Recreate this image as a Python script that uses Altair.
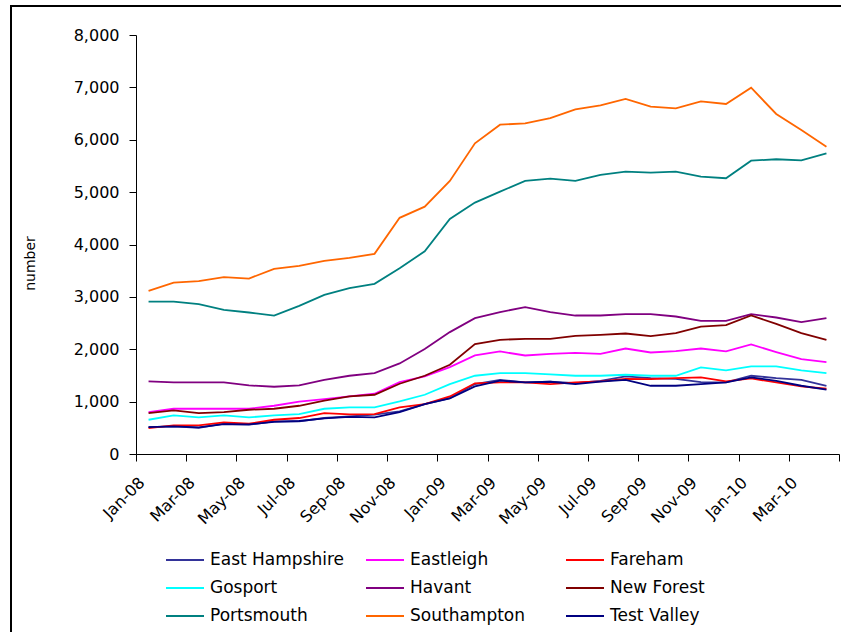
import json

import altair as alt
import pandas as pd

# Month labels, January 2008 to April 2010
months = [
    "Jan-08", "Feb-08", "Mar-08", "Apr-08", "May-08", "Jun-08", "Jul-08",
    "Aug-08", "Sep-08", "Oct-08", "Nov-08", "Dec-08", "Jan-09", "Feb-09",
    "Mar-09", "Apr-09", "May-09", "Jun-09", "Jul-09", "Aug-09", "Sep-09",
    "Oct-09", "Nov-09", "Dec-09", "Jan-10", "Feb-10", "Mar-10", "Apr-10",
]

districts = [
    "East Hampshire", "Eastleigh", "Fareham",
    "Gosport", "Havant", "New Forest",
    "Portsmouth", "Southampton", "Test Valley",
]

colors = [
    "#333399", "#ff00ff", "#ff0000",
    "#00ffff", "#800080", "#800000",
    "#008080", "#ff6600", "#000080",
]

east_hampshire = [515, 527, 500, 578, 559, 622, 622, 687, 718, 750, 813, 954, 1068, 1335,
                  1417, 1366, 1379, 1354, 1398, 1481, 1449, 1436, 1373, 1366, 1494, 1449, 1417, 1303]
eastleigh = [801, 864, 864, 864, 864, 921, 998, 1049, 1099, 1150, 1373, 1481, 1660, 1881,
             1958, 1881, 1913, 1932, 1913, 2014, 1938, 1965, 2014, 1958, 2091, 1946, 1812, 1755]
fareham = [496, 546, 546, 603, 578, 654, 687, 782, 756, 763, 890, 954, 1099, 1350,
           1366, 1366, 1335, 1366, 1385, 1436, 1430, 1449, 1462, 1385, 1443, 1366, 1290, 1246]
gosport = [654, 737, 699, 737, 699, 737, 763, 864, 890, 890, 1004, 1131, 1335, 1494,
           1545, 1545, 1519, 1494, 1494, 1513, 1494, 1494, 1653, 1596, 1672, 1672, 1596, 1545]
havant = [1385, 1366, 1366, 1366, 1309, 1284, 1309, 1417, 1494, 1545, 1729, 2003, 2327, 2594,
          2709, 2804, 2709, 2644, 2644, 2671, 2671, 2625, 2543, 2543, 2671, 2606, 2518, 2594]
new_forest = [782, 832, 782, 801, 845, 864, 921, 1017, 1099, 1131, 1341, 1494, 1704, 2098,
              2180, 2200, 2200, 2257, 2276, 2301, 2251, 2308, 2434, 2461, 2644, 2486, 2308, 2180]
portsmouth = [2911, 2911, 2861, 2753, 2702, 2644, 2829, 3039, 3167, 3249, 3548, 3870, 4489, 4800,
              5010, 5214, 5258, 5214, 5328, 5391, 5372, 5391, 5296, 5265, 5601, 5628, 5608, 5742]
southampton = [3115, 3274, 3300, 3376, 3350, 3535, 3592, 3688, 3745, 3821, 4509, 4723, 5214, 5933,
               6288, 6314, 6415, 6581, 6657, 6778, 6632, 6600, 6734, 6683, 6994, 6492, 6187, 5868]
test_valley = [515, 527, 510, 570, 565, 615, 630, 680, 710, 699, 800, 950, 1060, 1290,
               1400, 1366, 1379, 1335, 1380, 1417, 1303, 1303, 1335, 1366, 1462, 1398, 1303, 1227]

series = [east_hampshire, eastleigh, fareham, gosport, havant,
          new_forest, portsmouth, southampton, test_valley]

rows = []
for name, values in zip(districts, series):
    for i, v in enumerate(values):
        rows.append({"district": name, "idx": i, "month": months[i], "number": v})
df = pd.DataFrame(rows)

FONT = "DejaVu Sans"
n = len(months)

# Ticks sit on the boundaries between months, every second month labelled
tick_values = [i - 0.5 for i in range(0, n + 1, 2)]
label_expr = "(" + json.dumps(months) + ")[datum.value + 0.5] || ''"

lines = (
    alt.Chart(df)
    .mark_line(strokeWidth=1.8)
    .encode(
        x=alt.X(
            "idx:Q",
            scale=alt.Scale(domain=[-0.5, n - 0.5], nice=False, zero=False),
            axis=alt.Axis(
                values=tick_values,
                labelExpr=label_expr,
                labelAngle=315,
                labelAlign="right",
                labelBaseline="top",
                labelPadding=13,
                labelOverlap=False,
                labelFontSize=16,
                title=None,
                grid=False,
                tickSize=7,
            ),
        ),
        y=alt.Y(
            "number:Q",
            scale=alt.Scale(domain=[0, 8000], nice=False),
            axis=alt.Axis(
                values=list(range(0, 8001, 1000)),
                format=",d",
                title="number",
                titleAngle=270,
                titleX=-106,
                titleY=228,
                titleAlign="center",
                titleBaseline="middle",
                titleFontWeight="normal",
                titleFontSize=14,
                labelOverlap=False,
                grid=False,
                tickSize=7,
                labelPadding=10,
            ),
        ),
        color=alt.Color(
            "district:N",
            scale=alt.Scale(domain=districts, range=colors),
            sort=districts,
            legend=alt.Legend(
                title=None,
                orient="none",
                legendX=29,
                legendY=505,
                columns=3,
                direction="horizontal",
                gridAlign="all",
                columnPadding=17,
                rowPadding=-5,
                symbolType="stroke",
                symbolSize=1444,
                symbolStrokeWidth=2,
                labelOffset=5,
                labelFontSize=17,
                labelFont=FONT,
                labelColor="#000000",
                padding=0,
            ),
        ),
        detail="district:N",
    )
)

# Outer frame around the whole chart
frame = (
    alt.Chart(pd.DataFrame({"f": [0]}))
    .mark_rect(fill="transparent", stroke="#000000", strokeWidth=2)
    .encode(
        x=alt.value(-125),
        x2=alt.value(720),
        y=alt.value(-29),
        y2=alt.value(640),
    )
)

chart = (
    alt.layer(frame, lines)
    .properties(
        width=703,
        height=419,
        padding={"left": 136, "top": 35, "right": 2, "bottom": 178},
        autosize=alt.AutoSizeParams(type="none"),
        background="#ffffff",
    )
    .configure_view(stroke=None)
    .configure_axis(
        labelFont=FONT,
        titleFont=FONT,
        labelFontSize=16,
        labelColor="#000000",
        titleColor="#000000",
        domainColor="#000000",
        tickColor="#000000",
        domainWidth=1,
        tickWidth=1,
    )
)

chart.save("out.html", embed_options={"renderer": "svg", "actions": False})
